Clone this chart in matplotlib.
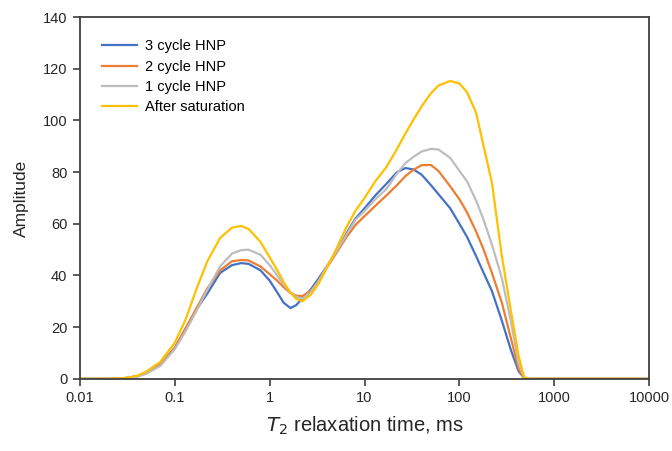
import matplotlib
matplotlib.use("Agg")
import matplotlib.pyplot as plt
from matplotlib.ticker import FixedLocator, FixedFormatter, NullLocator

plt.rcParams['font.family'] = ['Liberation Sans', 'DejaVu Sans']

# T2 relaxation time (ms), shared by all curves
t2 = [0.01, 0.02, 0.03, 0.04, 0.05, 0.07,
      0.1, 0.13, 0.17, 0.22, 0.3, 0.4, 0.5, 0.6, 0.8,
      1.0, 1.2, 1.4, 1.65, 1.9, 2.2, 2.7, 3.3, 4, 5, 6.5, 8,
      10, 13, 17, 22, 27, 33, 40, 50, 60, 80,
      100, 120, 150, 180, 220, 280, 350, 420, 480, 550,
      1000, 10000]

cycle3 = [0, 0, 0.3, 1, 2.2, 5.5,
          12, 19.5, 27, 33, 41, 44, 44.8, 44.5, 42,
          38, 33.5, 29.5, 27.4, 28.5, 31, 34.5, 39, 43.5, 49, 56.5, 62,
          66, 71, 75.5, 80, 81.6, 81, 79, 75, 71.5, 66,
          60, 55, 47.5, 41, 34, 22.5, 11, 3, 0.3, 0,
          0, 0]

cycle2 = [0, 0, 0.3, 1, 2.3, 5.5,
          12, 19.5, 27.5, 35, 42, 45.5, 46, 45.8, 43.5,
          40.5, 38, 35.5, 33.3, 32.2, 32, 34, 38, 43, 48.5, 55, 59.5,
          63, 67, 71, 75, 78.5, 81, 82.7, 82.8, 80.5, 74.5,
          69.5, 64.5, 57, 50, 41, 29.5, 15.5, 4, 0.3, 0,
          0, 0]

cycle1 = [0, 0, 0.2, 0.8, 2, 5,
          11.5, 18.5, 26.5, 34.5, 43.5, 48.5, 49.8, 50, 48,
          44, 40, 36.5, 33.5, 31.8, 31, 33.5, 38, 43.5, 49, 56, 61.5,
          65, 69.5, 73.5, 79.5, 83.5, 86, 88, 89, 88.8, 85.5,
          80.5, 76.5, 69, 61.5, 52, 39, 22, 6, 0.5, 0,
          0, 0]

saturated = [0, 0, 0.3, 1.2, 2.8, 6.5,
             14, 23, 35, 45.5, 54.5, 58.5, 59.2, 58, 53,
             47, 42, 37.5, 33.5, 31, 30, 32.5, 37, 43, 50, 59, 65,
             70, 76.5, 82, 89, 95, 100.5, 105.5, 110.5, 113.5, 115.3,
             114.3, 111, 103, 90, 76, 47.5, 26, 9, 0.5, 0,
             0, 0]

x_ticks = [0.01, 0.1, 1, 10, 100, 1000, 10000]
x_labels = ["0.01", "0.1", "1", "10", "100", "1000", "10000"]

fig = plt.figure(figsize=(6.72, 4.51), dpi=100, facecolor="w")
ax = fig.add_axes([0.119, 0.160, 0.847, 0.802])

ax.plot(t2, cycle3, color="#4472C4", lw=1.6, label="3 cycle HNP")
ax.plot(t2, cycle2, color="#ED7D31", lw=1.6, label="2 cycle HNP")
ax.plot(t2, cycle1, color="#BDBDBD", lw=1.6, label="1 cycle HNP")
ax.plot(t2, saturated, color="#FFC000", lw=1.6, label="After saturation")

ax.set_xscale("log")
ax.set_xlim(0.01, 10000)
ax.set_ylim(0, 140)
ax.xaxis.set_major_locator(FixedLocator(x_ticks))
ax.xaxis.set_major_formatter(FixedFormatter(x_labels))
ax.xaxis.set_minor_locator(NullLocator())
ax.set_yticks(range(0, 141, 20))

for s in ax.spines.values():
    s.set_color("#404040")
    s.set_linewidth(1.3)
ax.tick_params(direction="out", length=5, width=1.2, color="#404040",
               labelsize=10.5, labelcolor="#262626", pad=4)

ax.set_xlabel("$\\mathit{T}_2$ relaxation time, ms", fontsize=14.5,
              color="#262626", labelpad=7)
ax.set_ylabel("Amplitude", fontsize=12.5, color="#262626", labelpad=10)

ax.legend(loc="upper left", bbox_to_anchor=(0.029, 0.955), frameon=False,
          fontsize=10.5, handlelength=2.4, handletextpad=0.55,
          labelspacing=0.44, borderaxespad=0)

fig.savefig("out.png", dpi=100, facecolor="w")
